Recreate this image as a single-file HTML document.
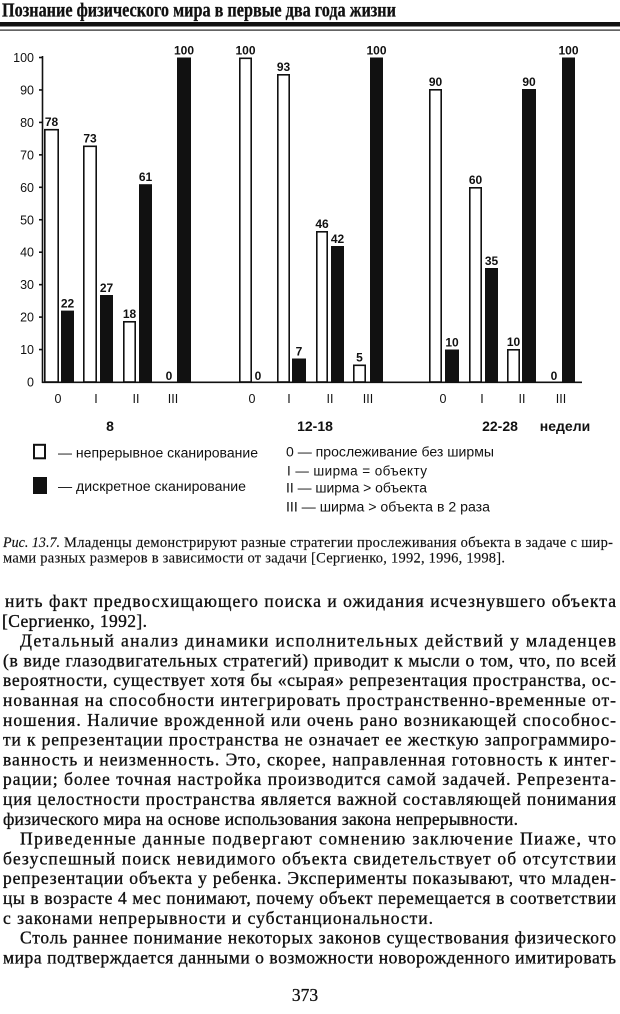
<!DOCTYPE html>
<html><head><meta charset="utf-8">
<style>
html,body{margin:0;padding:0;background:#fff;}
svg{display:block;}
.s{font-family:"Liberation Sans","DejaVu Sans",sans-serif;fill:#111;}
.r{font-family:"Liberation Serif","DejaVu Serif",serif;fill:#111;}
</style></head>
<body>
<svg width="620" height="1014" viewBox="0 0 620 1014" xmlns="http://www.w3.org/2000/svg">
<rect width="620" height="1014" fill="#fff"/>

<!-- Header -->
<text class="r" x="2" y="16.5" font-size="19.5" font-weight="bold" stroke="#111" stroke-width="0.3" textLength="394" lengthAdjust="spacingAndGlyphs">Познание физического мира в первые два года жизни</text>
<rect x="0" y="22" width="620" height="4.5" fill="#111"/>
<rect x="0" y="29.5" width="620" height="1.2" fill="#222"/>

<!-- Axes -->
<g stroke="#111" stroke-width="1.6">
<line x1="42.5" y1="56" x2="42.5" y2="383"/>
<line x1="42" y1="382.3" x2="582" y2="382.3"/>
<line x1="39" y1="57.5" x2="42.5" y2="57.5"/>
<line x1="39" y1="89.95" x2="42.5" y2="89.95"/>
<line x1="39" y1="122.4" x2="42.5" y2="122.4"/>
<line x1="39" y1="154.85" x2="42.5" y2="154.85"/>
<line x1="39" y1="187.3" x2="42.5" y2="187.3"/>
<line x1="39" y1="219.75" x2="42.5" y2="219.75"/>
<line x1="39" y1="252.2" x2="42.5" y2="252.2"/>
<line x1="39" y1="284.65" x2="42.5" y2="284.65"/>
<line x1="39" y1="317.1" x2="42.5" y2="317.1"/>
<line x1="39" y1="349.55" x2="42.5" y2="349.55"/>
</g>

<!-- Y tick labels -->
<g class="s" font-size="12.5" text-anchor="end">
<text x="34" y="62">100</text>
<text x="34" y="94.5">90</text>
<text x="34" y="127">80</text>
<text x="34" y="159.4">70</text>
<text x="34" y="191.8">60</text>
<text x="34" y="224.3">50</text>
<text x="34" y="256.7">40</text>
<text x="34" y="289.2">30</text>
<text x="34" y="321.6">20</text>
<text x="34" y="354">10</text>
<text x="34" y="386.5">0</text>
</g>

<!-- White bars -->
<g fill="#fff" stroke="#111" stroke-width="1.6">
<rect x="44.8" y="129.7" width="13.4" height="252.3"/>
<rect x="83.8" y="146.3" width="12.4" height="235.7"/>
<rect x="123.8" y="321.8" width="11.4" height="60.2"/>
<rect x="239.8" y="58.3" width="11.4" height="323.7"/>
<rect x="277.8" y="74.8" width="11.4" height="307.2"/>
<rect x="316.8" y="231.8" width="10.4" height="150.2"/>
<rect x="353.8" y="365.3" width="11.4" height="16.7"/>
<rect x="429.8" y="89.8" width="11.4" height="292.2"/>
<rect x="469.8" y="187.8" width="11.4" height="194.2"/>
<rect x="507.8" y="349.8" width="11.4" height="32.2"/>
</g>

<!-- Black bars -->
<g fill="#111">
<rect x="61" y="310.6" width="13" height="71.7"/>
<rect x="100" y="295" width="13" height="87.3"/>
<rect x="139" y="184.2" width="13" height="198.1"/>
<rect x="177" y="57.5" width="14" height="324.8"/>
<rect x="292" y="358.5" width="14" height="23.8"/>
<rect x="331" y="246" width="13" height="136.3"/>
<rect x="370" y="57.5" width="13" height="324.8"/>
<rect x="445" y="349.5" width="14" height="32.8"/>
<rect x="485" y="268" width="13" height="114.3"/>
<rect x="522" y="89" width="14" height="293.3"/>
<rect x="562" y="57.5" width="13" height="324.8"/>
</g>

<!-- Value labels -->
<g class="s" font-size="12" font-weight="bold" text-anchor="middle">
<text x="51.5" y="126">78</text>
<text x="67.5" y="307.5">22</text>
<text x="90" y="142.5">73</text>
<text x="106.5" y="292">27</text>
<text x="129.5" y="318">18</text>
<text x="145.5" y="181">61</text>
<text x="169" y="380">0</text>
<text x="184" y="54.5">100</text>
<text x="245.5" y="54.5">100</text>
<text x="258" y="380">0</text>
<text x="283.5" y="71">93</text>
<text x="299" y="355.5">7</text>
<text x="322" y="228">46</text>
<text x="337.5" y="243">42</text>
<text x="359.5" y="361.5">5</text>
<text x="376.5" y="54.5">100</text>
<text x="435.5" y="86">90</text>
<text x="452" y="346.5">10</text>
<text x="475.5" y="184">60</text>
<text x="491.5" y="265">35</text>
<text x="513.5" y="346">10</text>
<text x="529" y="86">90</text>
<text x="554" y="380">0</text>
<text x="568.5" y="54.5">100</text>
</g>

<!-- Category labels -->
<g class="s" font-size="12.5" text-anchor="middle">
<text x="58" y="403">0</text>
<text x="96" y="403">I</text>
<text x="136" y="403">II</text>
<text x="173" y="403">III</text>
<text x="252" y="403">0</text>
<text x="289" y="403">I</text>
<text x="330" y="403">II</text>
<text x="368" y="403">III</text>
<text x="443" y="403">0</text>
<text x="482" y="403">I</text>
<text x="522" y="403">II</text>
<text x="561" y="403">III</text>
</g>
<g class="s" font-size="14" font-weight="bold" text-anchor="middle">
<text x="110" y="431">8</text>
<text x="315" y="431">12-18</text>
<text x="500" y="431">22-28</text>
<text x="565" y="431">недели</text>
</g>

<!-- Legend -->
<rect x="34" y="444.8" width="11" height="13.5" fill="#fff" stroke="#111" stroke-width="2"/>
<rect x="33" y="477" width="14" height="17" fill="#111"/>
<g class="s" font-size="13.5">
<text x="58" y="457.5" textLength="200" lengthAdjust="spacingAndGlyphs">— непрерывное сканирование</text>
<text x="58" y="491" textLength="188" lengthAdjust="spacingAndGlyphs">— дискретное сканирование</text>
<text x="286" y="456.5" textLength="208" lengthAdjust="spacingAndGlyphs">0 — прослеживание без ширмы</text>
<text x="287" y="475.5" textLength="140" lengthAdjust="spacing">I — ширма = объекту</text>
<text x="286" y="492.5" textLength="141" lengthAdjust="spacingAndGlyphs">II — ширма &gt; объекта</text>
<text x="286" y="511.5" textLength="204" lengthAdjust="spacingAndGlyphs">III — ширма &gt; объекта в 2 раза</text>
</g>

<!-- Caption -->
<g class="r" font-size="14.5" stroke="#111" stroke-width="0.15">
<text x="3" y="547" font-style="italic" textLength="57" lengthAdjust="spacingAndGlyphs">Рис. 13.7.</text>
<text x="64" y="547" textLength="549" lengthAdjust="spacing">Младенцы демонстрируют разные стратегии прослеживания объекта в задаче с шир-</text>
<text x="3" y="562.5" textLength="502" lengthAdjust="spacing">мами разных размеров в зависимости от задачи [Сергиенко, 1992, 1996, 1998].</text>
</g>

<!-- Body -->
<g class="r" font-size="17.5" stroke="#111" stroke-width="0.35">
<text x="5" y="607" textLength="611" lengthAdjust="spacing">нить факт предвосхищающего поиска и ожидания исчезнувшего объекта</text>
<text x="2" y="626.8" textLength="145" lengthAdjust="spacing">[Сергиенко, 1992].</text>
<text x="20" y="646.6" textLength="596" lengthAdjust="spacing">Детальный анализ динамики исполнительных действий у младенцев</text>
<text x="3" y="666.4" textLength="613" lengthAdjust="spacing">(в виде глазодвигательных стратегий) приводит к мысли о том, что, по всей</text>
<text x="3" y="686.2" textLength="613" lengthAdjust="spacing">вероятности, существует хотя бы «сырая» репрезентация пространства, ос-</text>
<text x="3" y="706" textLength="613" lengthAdjust="spacing">нованная на способности интегрировать пространственно-временные от-</text>
<text x="3" y="725.8" textLength="613" lengthAdjust="spacing">ношения. Наличие врожденной или очень рано возникающей способнос-</text>
<text x="3" y="745.6" textLength="613" lengthAdjust="spacing">ти к репрезентации пространства не означает ее жесткую запрограммиро-</text>
<text x="3" y="765.4" textLength="613" lengthAdjust="spacing">ванность и неизменность. Это, скорее, направленная готовность к интег-</text>
<text x="3" y="785.2" textLength="613" lengthAdjust="spacing">рации; более точная настройка производится самой задачей. Репрезента-</text>
<text x="3" y="805" textLength="613" lengthAdjust="spacing">ция целостности пространства является важной составляющей понимания</text>
<text x="3" y="824.8" textLength="515" lengthAdjust="spacing">физического мира на основе использования закона непрерывности.</text>
<text x="20" y="844.6" textLength="596" lengthAdjust="spacing">Приведенные данные подвергают сомнению заключение Пиаже, что</text>
<text x="3" y="864.4" textLength="613" lengthAdjust="spacing">безуспешный поиск невидимого объекта свидетельствует об отсутствии</text>
<text x="3" y="884.2" textLength="613" lengthAdjust="spacing">репрезентации объекта у ребенка. Эксперименты показывают, что младен-</text>
<text x="3" y="904" textLength="613" lengthAdjust="spacing">цы в возрасте 4 мес понимают, почему объект перемещается в соответствии</text>
<text x="3" y="923.8" textLength="430" lengthAdjust="spacing">с законами непрерывности и субстанциональности.</text>
<text x="20" y="943.6" textLength="596" lengthAdjust="spacing">Столь раннее понимание некоторых законов существования физического</text>
<text x="3" y="963.4" textLength="613" lengthAdjust="spacing">мира подтверждается данными о возможности новорожденного имитировать</text>
</g>

<text class="r" x="305" y="1001" font-size="17.5" stroke="#111" stroke-width="0.3" text-anchor="middle">373</text>
</svg>
</body></html>
